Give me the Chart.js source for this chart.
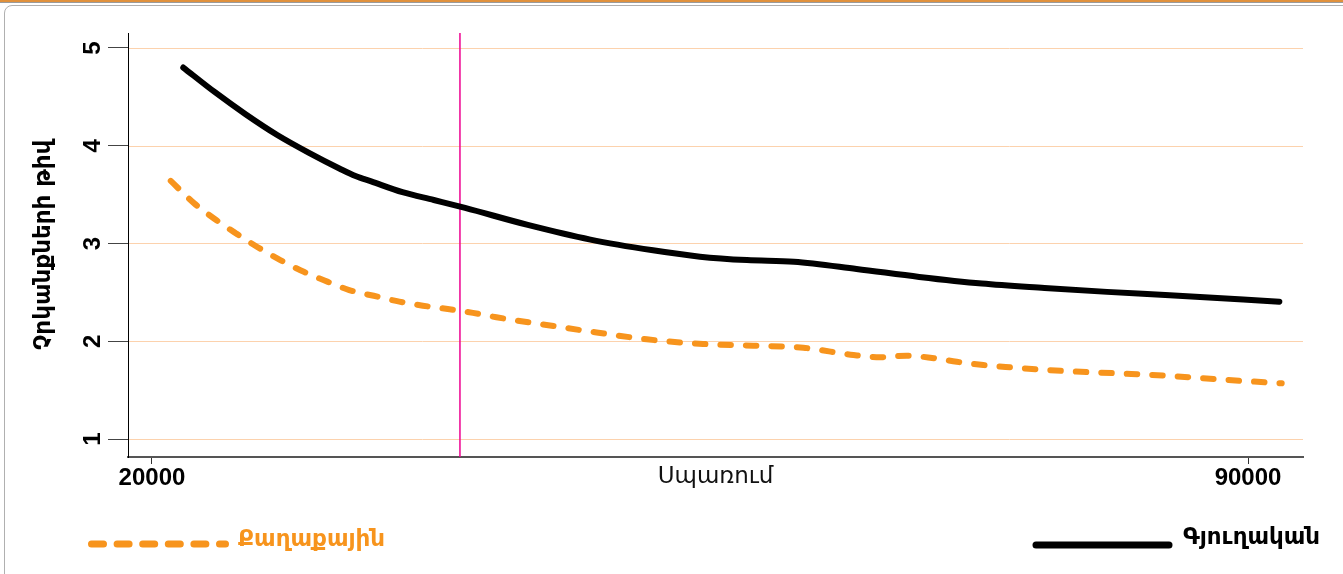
<!DOCTYPE html>
<html lang="hy">
<head>
<meta charset="UTF-8">
<title>Սպառում</title>
<script src="https://cdn.jsdelivr.net/npm/chart.js"></script>
<style>
    body { margin: 0; background: #fff; width: 1343px; height: 574px; overflow: hidden; position: relative; font-family: "DejaVu Sans", sans-serif; }
    .topbar { position: absolute; left: 0; top: 0; width: 1343px; height: 2px; background: #e0913c; border-bottom: 1px solid #9a9a9a; }
    .frame { position: absolute; left: 4px; top: 5px; width: 1400px; height: 620px; border: 1.5px solid #b0b0b0; border-radius: 8px; }
    .chart-box { position: absolute; left: 0; top: 0; width: 1343px; height: 500px; }
    .legend-svg { position: absolute; left: 0; top: 0; }
    .lbl { position: absolute; font-family: "DejaVu Sans", sans-serif; font-weight: bold; font-size: 23px; white-space: nowrap; }
</style>
</head>
<body>
<div class="topbar"></div>
<div class="frame"></div>
<div class="chart-box"><canvas id="chart" width="1343" height="500"></canvas></div>

<!-- legend -->
<svg class="legend-svg" width="1343" height="574">
    <line x1="91.5" y1="544" x2="225.5" y2="544" stroke="#f7941d" stroke-width="7" stroke-linecap="round" stroke-dasharray="12 13.6"/>
    <line x1="1036" y1="545" x2="1169" y2="545" stroke="#000" stroke-width="7" stroke-linecap="round"/>
</svg>
<div class="lbl" style="left:238px; top:525px; color:#f7941d;">Քաղաքային</div>
<div class="lbl" style="left:1183px; top:523px; color:#000;">Գյուղական</div>

<script>
// axes
const xTicks = [20000, 90000];
const yTicks = [1, 2, 3, 4, 5];
const xMin = 18470, xMax = 93510;
const yMin = 0.816, yMax = 5.153;
const markerX = 39670;

// Գյուղական (rural)
const ruralX = [22000, 24000, 26000, 28000, 30000, 32000, 33000, 34000, 36000, 38000, 40000, 44000, 48000, 52000, 55000, 58000, 61000, 65000, 69000, 73000, 77000, 81000, 85000, 92000];
const ruralY = [4.80, 4.55, 4.32, 4.11, 3.93, 3.765, 3.69, 3.635, 3.525, 3.445, 3.364, 3.19, 3.04, 2.93, 2.865, 2.83, 2.814, 2.74, 2.658, 2.59, 2.545, 2.505, 2.47, 2.405];

// Քաղաքային (urban)
const urbanX = [21200, 22700, 24100, 25400, 26700, 28200, 29700, 31200, 32600, 34400, 35800, 37300, 39000, 40500, 42000, 45200, 48400, 51600, 55200, 58400, 61600, 64800, 66500, 68200, 69700, 71400, 73100, 74800, 76500, 78200, 81600, 84800, 88000, 92150];
const urbanY = [3.64, 3.41, 3.24, 3.10, 2.967, 2.83, 2.71, 2.61, 2.524, 2.456, 2.405, 2.364, 2.327, 2.29, 2.245, 2.166, 2.09, 2.02, 1.972, 1.955, 1.934, 1.859, 1.836, 1.852, 1.832, 1.79, 1.757, 1.733, 1.712, 1.696, 1.672, 1.648, 1.611, 1.57];

const toPts = (xs, ys) => xs.map((x, i) => ({ x: x, y: ys[i] }));

// y tick labels are rotated in the original, so they are drawn here,
// together with the peach grid lines
const yLabels = {
    id: 'yLabels',
    beforeDatasetsDraw(chart) {
        const s = chart.scales.y, ctx = chart.ctx, a = chart.chartArea;
        ctx.save();
        ctx.strokeStyle = '#fcd2ad';
        ctx.lineWidth = 1;
        yTicks.forEach(v => {
            const py = Math.round(s.getPixelForValue(v)) + 0.5;
            ctx.beginPath();
            ctx.moveTo(a.left + 1, py);
            ctx.lineTo(a.right, py);
            ctx.stroke();
        });
        ctx.restore();
    },
    afterDraw(chart) {
        const s = chart.scales.y, ctx = chart.ctx;
        ctx.save();
        ctx.font = 'bold 24px "Liberation Sans"';
        ctx.fillStyle = '#000';
        ctx.textAlign = 'center';
        ctx.textBaseline = 'alphabetic';
        yTicks.forEach(v => {
            ctx.save();
            ctx.translate(100, s.getPixelForValue(v));
            ctx.rotate(-Math.PI / 2);
            ctx.fillText(String(v), 0, 0);
            ctx.restore();
        });
        ctx.restore();
    }
};

new Chart(document.getElementById('chart'), {
    type: 'line',
    data: {
        datasets: [
            {
                label: 'Գյուղական',
                data: toPts(ruralX, ruralY),
                borderColor: '#000',
                borderWidth: 6,
                borderCapStyle: 'round',
                borderJoinStyle: 'round',
                pointRadius: 0,
                cubicInterpolationMode: 'monotone',
                order: 1
            },
            {
                label: 'Քաղաքային',
                data: toPts(urbanX, urbanY),
                borderColor: '#f7941d',
                borderWidth: 6,
                borderDash: [10.5, 15],
                borderCapStyle: 'round',
                pointRadius: 0,
                cubicInterpolationMode: 'monotone',
                order: 2
            },
            {
                label: 'marker',
                data: [{ x: markerX, y: yMin }, { x: markerX, y: yMax }],
                borderColor: '#ee0090',
                borderWidth: 1.5,
                pointRadius: 0,
                order: 3
            }
        ]
    },
    options: {
        responsive: false,
        animation: false,
        layout: { padding: { top: 33, right: 40, left: 0, bottom: 0 } },
        plugins: { legend: { display: false }, tooltip: { enabled: false } },
        scales: {
            x: {
                type: 'linear',
                min: xMin,
                max: xMax,
                afterBuildTicks: s => { s.ticks = xTicks.map(v => ({ value: v })); },
                afterFit: s => { s.height = 43; },
                ticks: {
                    autoSkip: false,
                    maxRotation: 0,
                    padding: 0,
                    color: '#000',
                    font: { family: '"Liberation Sans"', size: 24, weight: 'bold' },
                    callback: v => String(v)
                },
                grid: { drawOnChartArea: false, color: '#333', tickColor: '#333', tickLength: 7 },
                border: { color: '#555', width: 2 },
                title: {
                    display: true,
                    text: 'Սպառում',
                    color: '#111',
                    font: { family: '"DejaVu Sans"', size: 23 },
                    padding: { top: 0, bottom: 9 }
                }
            },
            y: {
                min: yMin,
                max: yMax,
                afterBuildTicks: s => { s.ticks = yTicks.map(v => ({ value: v })); },
                afterFit: s => { s.width = 128; },
                ticks: { display: false },
                grid: { drawOnChartArea: false, color: '#444', tickColor: '#444', tickLength: 20 },
                border: { color: '#000', width: 1 },
                title: {
                    display: true,
                    text: 'Չրկանքների թիվ',
                    color: '#000',
                    font: { family: '"DejaVu Sans"', size: 23, weight: 'bold' },
                    padding: { top: 30, bottom: 0 }
                }
            }
        }
    },
    plugins: [yLabels]
});
</script>
</body>
</html>
